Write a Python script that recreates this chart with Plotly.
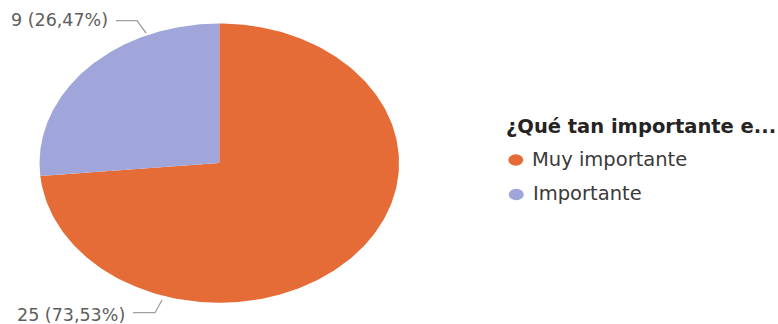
import numpy as np
import plotly.graph_objects as go

# Survey answers
categories = ["Muy importante", "Importante"]
counts = [25, 9]
colors = ["#E66C37", "#A0A6D9"]
legend_title = "¿Qué tan importante e..."

W, H = 778, 324
# Pie ellipse geometry (pixels)
CX, CY = 219.3, 163.1
RX, RY = 179.75, 139.6

total = sum(counts)
labels = [f"{v} ({v / total * 100:.2f}%)".replace(".", ",") for v in counts]

fig = go.Figure()

# Slices: start at 12 o'clock and go clockwise
start = 90.0
for name, v, col in zip(categories, counts, colors):
    sweep = v / total * 360.0
    ang = np.radians(np.linspace(start, start - sweep, 240))
    xs = np.concatenate([[0.0], np.cos(ang), [0.0]])
    ys = np.concatenate([[0.0], np.sin(ang), [0.0]])
    fig.add_trace(go.Scatter(
        x=xs, y=ys, mode="lines", fill="toself", fillcolor=col,
        line=dict(width=0, color=col), name=name, showlegend=False,
        hoverinfo="skip"))
    start -= sweep


def px(x):
    return x / W


def py(y):
    return 1 - y / H


font_lbl = dict(family="DejaVu Sans", size=17.5, color="#605E5C")
line_col = "#A19F9D"

# Data labels with leader lines (label index -> text pos, polyline)
label_layout = {
    1: dict(tx=110, ty=20.5, pts=[(116, 20.7), (137, 20.7), (146, 33)]),
    0: dict(tx=127, ty=315, pts=[(133, 312.7), (155, 312.7), (162, 300)]),
}
for i, spec in label_layout.items():
    fig.add_annotation(x=px(spec["tx"]), y=py(spec["ty"]), xref="paper", yref="paper",
                       text=labels[i], showarrow=False, xanchor="right", yanchor="middle",
                       font=font_lbl)
    path = "M " + " L ".join(f"{px(a):.5f},{py(b):.5f}" for a, b in spec["pts"])
    fig.add_shape(type="path", path=path, xref="paper", yref="paper",
                  line=dict(color=line_col, width=1.3))

# Legend
fig.add_annotation(x=px(504), y=py(127), xref="paper", yref="paper",
                   text=f"<b>{legend_title}</b>", showarrow=False,
                   xanchor="left", yanchor="middle",
                   font=dict(family="DejaVu Sans", size=19.5, color="#252423"))
legend_rows = [(160, 515.8, 530), (194.5, 516.3, 531)]
for (ly, mx, tx), name, col in zip(legend_rows, categories, colors):
    fig.add_shape(type="circle", xref="paper", yref="paper",
                  x0=px(mx - 7.5), x1=px(mx + 7.5), y0=py(ly + 5.7), y1=py(ly - 5.7),
                  fillcolor=col, line=dict(width=0))
    fig.add_annotation(x=px(tx), y=py(ly - 1), xref="paper", yref="paper",
                       text=name, showarrow=False, xanchor="left", yanchor="middle",
                       font=dict(family="DejaVu Sans", size=19.5, color="#3B3A39"))

fig.update_layout(
    width=W, height=H,
    margin=dict(l=0, r=0, t=0, b=0),
    paper_bgcolor="white", plot_bgcolor="white",
    xaxis=dict(range=[-CX / RX, (W - CX) / RX], visible=False, fixedrange=True),
    yaxis=dict(range=[-(H - CY) / RY, CY / RY], visible=False, fixedrange=True),
    showlegend=False,
)

fig.write_html("out.html")
